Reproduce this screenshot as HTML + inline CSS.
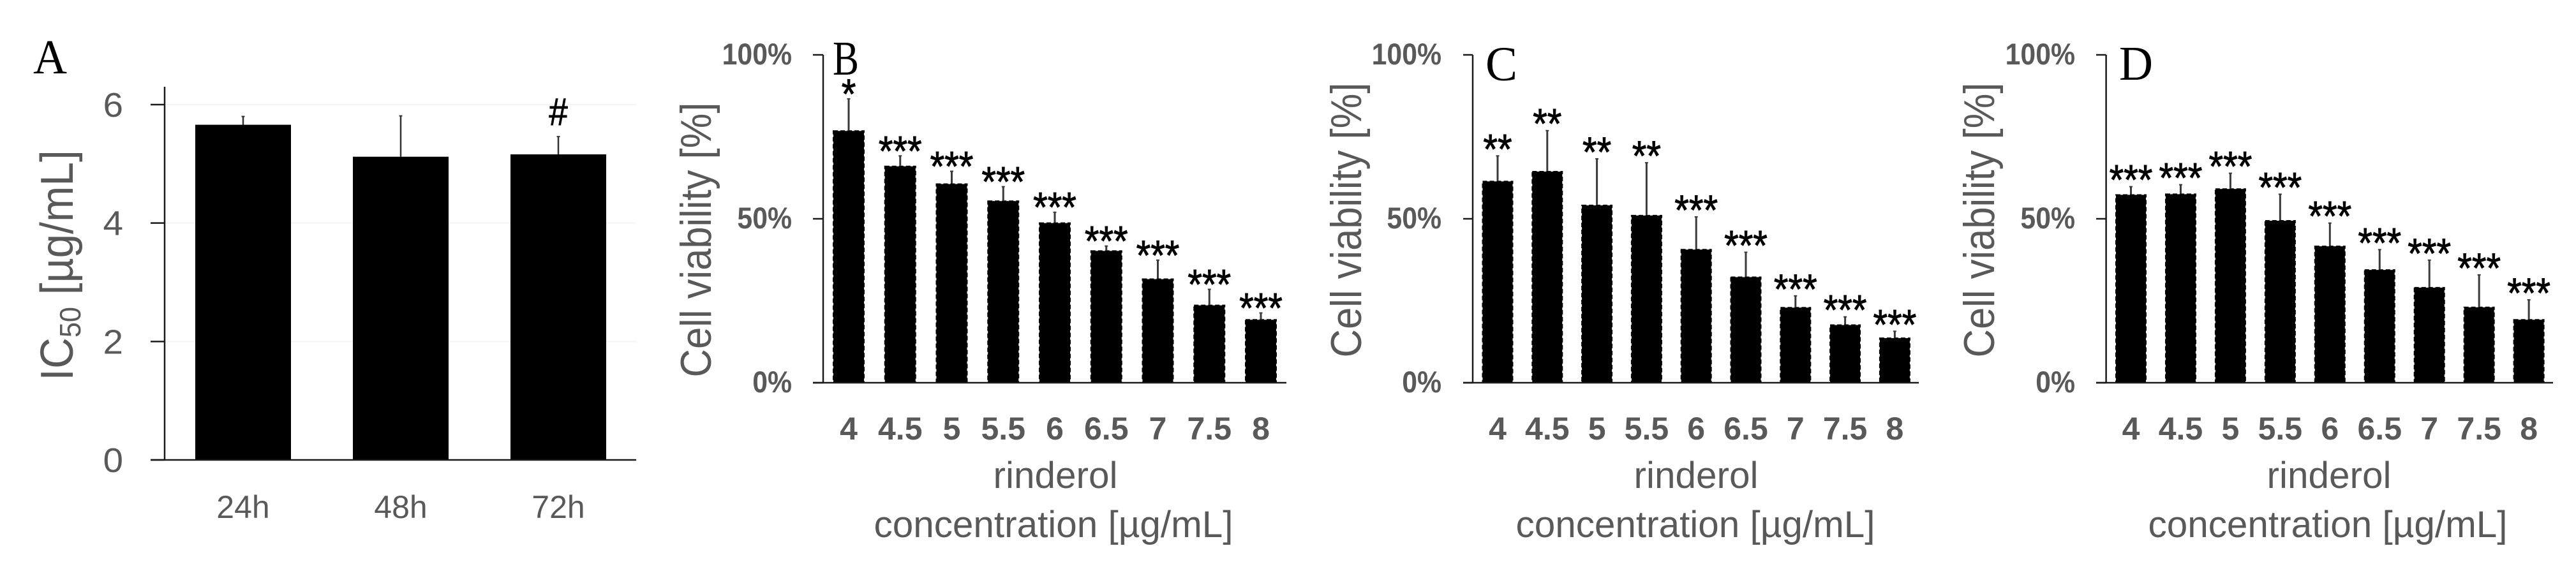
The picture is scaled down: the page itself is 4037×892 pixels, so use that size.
<!DOCTYPE html>
<html lang="en">
<head>
<meta charset="utf-8">
<title>Rinderol IC50 and cell viability</title>
<style>
  html, body { margin: 0; padding: 0; background: #fff; }
  svg { display: block; }
  text { font-family: "Liberation Sans", sans-serif; fill: #595959; }
  .letter { font-family: "Liberation Serif", serif; fill: #000; }
</style>
</head>
<body>
<svg id="fig" xmlns="http://www.w3.org/2000/svg" width="4037" height="892" viewBox="0 0 4037 892">
  <rect x="0" y="0" width="4037" height="892" fill="#fff"/>

  <g id="panel-a"></g>
  <g id="panel-b"></g>
  <g id="panel-c"></g>
  <g id="panel-d"></g>

  <text class="letter" x="52" y="115" font-size="76" textLength="53" lengthAdjust="spacingAndGlyphs">A</text>
  <text class="letter" x="1305" y="117" font-size="76" textLength="41" lengthAdjust="spacingAndGlyphs">B</text>
  <text class="letter" x="2328" y="126" font-size="76" textLength="50" lengthAdjust="spacingAndGlyphs">C</text>
  <text class="letter" x="3321" y="125" font-size="76" textLength="53" lengthAdjust="spacingAndGlyphs">D</text>

  <text font-size="72" text-anchor="middle" transform="translate(114,416) rotate(-90) scale(0.94,1)">IC<tspan font-size="46" dy="12">50</tspan><tspan dy="-12"> [µg/mL]</tspan></text>

  <text font-size="68" text-anchor="middle" textLength="431" lengthAdjust="spacingAndGlyphs" transform="translate(1114,376) rotate(-90)">Cell viability [%]</text>
  <text font-size="58" text-anchor="middle" x="1654" y="765" textLength="195" lengthAdjust="spacingAndGlyphs">rinderol</text>
  <text font-size="58" text-anchor="middle" x="1651" y="842" textLength="563" lengthAdjust="spacingAndGlyphs">concentration [µg/mL]</text>

  <text font-size="68" text-anchor="middle" textLength="431" lengthAdjust="spacingAndGlyphs" transform="translate(2133,345) rotate(-90)">Cell viability [%]</text>
  <text font-size="58" text-anchor="middle" x="2658" y="765" textLength="195" lengthAdjust="spacingAndGlyphs">rinderol</text>
  <text font-size="58" text-anchor="middle" x="2657" y="842" textLength="563" lengthAdjust="spacingAndGlyphs">concentration [µg/mL]</text>

  <text font-size="68" text-anchor="middle" textLength="431" lengthAdjust="spacingAndGlyphs" transform="translate(3125,345) rotate(-90)">Cell viability [%]</text>
  <text font-size="58" text-anchor="middle" x="3650" y="765" textLength="195" lengthAdjust="spacingAndGlyphs">rinderol</text>
  <text font-size="58" text-anchor="middle" x="3648" y="842" textLength="563" lengthAdjust="spacingAndGlyphs">concentration [µg/mL]</text>
</svg>

<script>
const timeCategories = ['24h', '48h', '72h'];
const aValues = [5.66, 5.12, 5.16];
const aErrors = [0.14, 0.69, 0.30];
const aMarks = ['', '', '#'];
const aTicks = [0, 2, 4, 6];

const doseCategories = ['4', '4.5', '5', '5.5', '6', '6.5', '7', '7.5', '8'];
const percentTicks = [0, 50, 100];

const bValues = [77.0, 66.2, 60.8, 55.6, 48.9, 40.4, 31.8, 23.8, 19.4];
const bErrors = [9.6, 3.0, 3.7, 4.2, 3.1, 1.3, 5.6, 4.7, 1.9];
const bMarks = ['*', '***', '***', '***', '***', '***', '***', '***', '***'];

const cValues = [61.6, 64.6, 54.3, 51.2, 40.8, 32.4, 23.1, 17.8, 13.8];
const cErrors = [7.6, 12.3, 14.0, 15.9, 9.8, 7.4, 3.4, 2.3, 1.9];
const cMarks = ['**', '**', '**', '**', '***', '***', '***', '***', '***'];

const dValues = [57.5, 57.7, 59.3, 49.6, 41.8, 34.6, 29.2, 23.2, 19.4];
const dErrors = [2.3, 2.7, 4.6, 7.9, 6.9, 6.0, 8.2, 9.7, 5.9];
const dMarks = ['***', '***', '***', '***', '***', '***', '***', '***', '***'];

const SVG_NS = 'http://www.w3.org/2000/svg';

function makeLine(parent, x1, y1, x2, y2, color, width, name) {
  const el = document.createElementNS(SVG_NS, 'line');
  el.setAttribute('x1', x1);
  el.setAttribute('y1', y1);
  el.setAttribute('x2', x2);
  el.setAttribute('y2', y2);
  el.setAttribute('stroke', color);
  el.setAttribute('stroke-width', width);
  
  
  parent.appendChild(el);
  return el;
}

function makeText(parent, str, x, y, size, anchor, scaleX, bold, color, name) {
  const el = document.createElementNS(SVG_NS, 'text');
  el.textContent = str;
  el.setAttribute('transform', 'translate(' + x + ',' + y + ') scale(' + scaleX + ',1)');
  el.setAttribute('font-size', size);
  el.setAttribute('text-anchor', anchor);
  if (bold) el.setAttribute('font-weight', 'bold');
  el.style.fill = color;
  
  
  parent.appendChild(el);
  return el;
}

function makeBar(parent, x, y, w, h, dashed, name) {
  const el = document.createElementNS(SVG_NS, 'rect');
  el.setAttribute('x', dashed ? x + 1 : x);
  el.setAttribute('y', dashed ? y + 1 : y);
  el.setAttribute('width', dashed ? w - 2 : w);
  el.setAttribute('height', dashed ? h - 1 : h);
  el.setAttribute('fill', '#000');
  if (dashed) {
    el.setAttribute('stroke', '#000');
    el.setAttribute('stroke-width', '2');
    el.setAttribute('stroke-dasharray', '7 4');
  }
  
  
  parent.appendChild(el);
  return el;
}

// Panel A: IC50 per exposure time
(function drawPanelA() {
  const g = document.getElementById('panel-a');
  const axisX = 258, baseY = 721, topY = 136, tickLeft = 236, rightX = 997;
  const pxPerUnit = (721 - 164) / 6;
  const yOf = v => baseY - v * pxPerUnit;
  const firstCenter = 381, step = 247, barW = 150;
  const xOf = i => firstCenter + i * step;

  aTicks.forEach(t => {
    if (t > 0) makeLine(g, axisX, yOf(t), rightX, yOf(t), '#f4f4f4', 2, 'gridline-' + t);
  });
  timeCategories.forEach((c, i) => {
    const cx = xOf(i);
    makeBar(g, cx - barW / 2, yOf(aValues[i]), barW, baseY - yOf(aValues[i]), false, 'bar-' + c);
    const top = yOf(aValues[i] + aErrors[i]);
    makeLine(g, cx, yOf(aValues[i]), cx, top, '#333', 2.5, 'error-bar-' + c);
    makeLine(g, cx - 2.5, top, cx + 2.5, top, '#333', 2, 'error-cap-' + c);
    makeText(g, c, cx, 812, 50, 'middle', 1.0, false, '#595959', 'x-tick-label-' + c);
    if (aMarks[i]) {
      const mark = makeText(g, aMarks[i], cx, top - 18, 60, 'middle', 0.88, false, '#000', 'significance-mark-' + c);
      mark.setAttribute('stroke', '#000');
      mark.setAttribute('stroke-width', '1');
    }
  });
  makeLine(g, axisX, topY, axisX, baseY + 1, '#1a1a1a', 2.5, 'y-axis-line');
  makeLine(g, tickLeft, baseY, rightX, baseY, '#1a1a1a', 2.5, 'x-axis-line');
  aTicks.forEach(t => {
    makeLine(g, tickLeft, yOf(t), axisX, yOf(t), '#1a1a1a', 2.5, 'y-tick-' + t);
    makeText(g, String(t), 193, yOf(t) + 19, 54, 'end', 1.05, false, '#595959', 'y-tick-label-' + t);
  });
})();

// Panels B, C, D: viability per dose
function drawViability(id, values, errors, marks, layout) {
  const g = document.getElementById(id);
  const baseY = 600, topY = 86;
  const yOf = v => baseY - v * (baseY - topY) / 100;
  const xOf = i => layout.firstCenter + i * layout.step;
  const barW = layout.barW;

  doseCategories.forEach((c, i) => {
    const cx = xOf(i);
    makeBar(g, cx - barW / 2, yOf(values[i]), barW, baseY - yOf(values[i]), true, 'bar-dose-' + c);
    const top = yOf(values[i] + errors[i]);
    makeLine(g, cx, yOf(values[i]), cx, top, '#3a3a3a', 3, 'error-bar-dose-' + c);
    makeLine(g, cx - 2.5, top, cx + 2.5, top, '#3a3a3a', 2, 'error-cap-dose-' + c);
    const mark = makeText(g, marks[i], cx, top - layout.markGap + 33, 66, 'middle', 0.88, false, '#000', 'significance-mark-dose-' + c);
    mark.setAttribute('stroke', '#000');
    mark.setAttribute('stroke-width', '1');
    makeText(g, c, cx, 689, 50, 'middle', 1.0, true, '#595959', 'x-tick-label-dose-' + c);
  });
  makeLine(g, layout.axisX, topY, layout.axisX, baseY + 1, '#1a1a1a', 2.5, 'y-axis-line');
  makeLine(g, layout.tickLeft, baseY, layout.rightX, baseY, '#1a1a1a', 2.5, 'x-axis-line');
  percentTicks.forEach(t => {
    makeLine(g, layout.tickLeft, yOf(t), layout.axisX, yOf(t), '#1a1a1a', 2.5, 'y-tick-' + t);
    makeText(g, t + '%', layout.labelRight, yOf(t) + 15, 47, 'end', 0.91, true, '#595959', 'y-tick-label-' + t);
  });
}

drawViability('panel-b', bValues, bErrors, bMarks, { axisX: 1290, tickLeft: 1274, rightX: 2016, firstCenter: 1330, step: 80.75, barW: 50, labelRight: 1241, markGap: 18 });
drawViability('panel-c', cValues, cErrors, cMarks, { axisX: 2308, tickLeft: 2293, rightX: 3007, firstCenter: 2347, step: 77.8, barW: 49, labelRight: 2259, markGap: 21 });
drawViability('panel-d', dValues, dErrors, dMarks, { axisX: 3300.6, tickLeft: 3285, rightX: 4001, firstCenter: 3339.5, step: 77.95, barW: 49, labelRight: 3252, markGap: 21 });
</script>
</body>
</html>
